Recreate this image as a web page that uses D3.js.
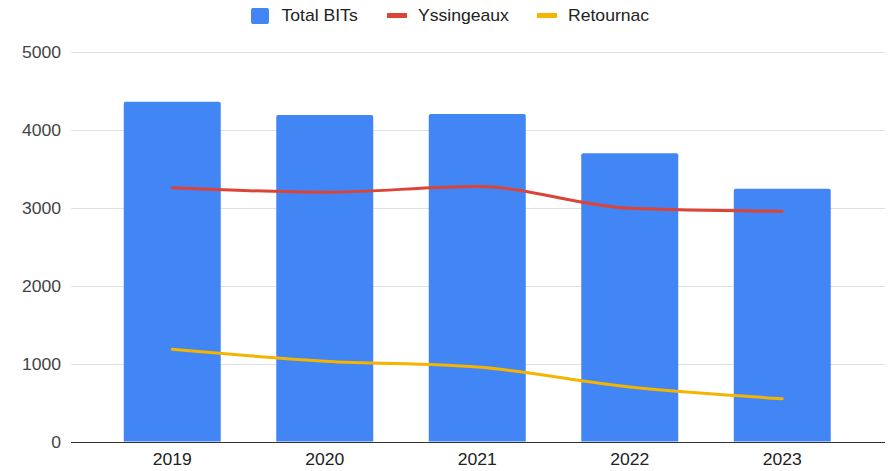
<!DOCTYPE html>
<html><head><meta charset="utf-8">
<script src="https://cdn.jsdelivr.net/npm/d3@7"></script>
<style>body{margin:0;background:#fff;} text{font-family:"Liberation Sans",Arial,sans-serif;}</style>
</head><body>
<svg id="c" width="893" height="471"></svg>
<script>
const categories = ["2019","2020","2021","2022","2023"];
const totalBITs = [4365, 4195, 4207, 3702, 3246];
const yssingeaux = [3260, 3203, 3275, 2996, 2957];
const retournac = [1184, 1032, 957, 700, 550];
const yTicks = [0, 1000, 2000, 3000, 4000, 5000];
const seriesNames = ["Total BITs", "Yssingeaux", "Retournac"];

const colors = {bar:"#4285f4", ys:"#db4437", re:"#f4b400"};
const svg = d3.select("#c");
const gridL = 71, gridR = 885;
const x = d3.scaleBand().domain(categories).range([96, 858.5]).paddingInner(0.364).paddingOuter(0.182);
const y = d3.scaleLinear().domain([0, 5000]).range([441.5, 52.3]);
const SX = 1.1;

function label(g, px, py, txt, anchor, color){
  return g.append("text")
    .attr("transform", `translate(${px},${py}) scale(${SX},1)`)
    .attr("text-anchor", anchor).attr("font-size", 16).attr("fill", color || "#333")
    .text(txt);
}

// gridlines
svg.append("g").selectAll("line").data(yTicks.filter(d=>d>0)).join("line")
  .attr("x1", gridL).attr("x2", gridR)
  .attr("y1", d=>Math.round(y(d))+0.5).attr("y2", d=>Math.round(y(d))+0.5)
  .attr("stroke", "#e0e0e0").attr("stroke-width", 1);

// y labels
const gy = svg.append("g");
yTicks.forEach(d => label(gy, 61, y(d)+6, d, "end", "#444"));

// bars
svg.append("g").selectAll("path").data(categories).join("path")
  .attr("fill", colors.bar)
  .attr("d", (c,i)=>{
    const x0 = x(c), w = x.bandwidth(), y0 = y(totalBITs[i]), y1 = y(0), r = 2;
    return `M${x0},${y1}V${y0+r}Q${x0},${y0} ${x0+r},${y0}H${x0+w-r}Q${x0+w},${y0} ${x0+w},${y0+r}V${y1}Z`;
  });

// baseline
svg.append("line").attr("x1", gridL).attr("x2", gridR)
  .attr("y1", Math.round(y(0))+0.5).attr("y2", Math.round(y(0))+0.5)
  .attr("stroke", "#333").attr("stroke-width", 1);

// lines
const line = d3.line().x((d,i)=>x(categories[i])+x.bandwidth()/2).y(d=>y(d)).curve(d3.curveMonotoneX);
svg.append("path").datum(yssingeaux).attr("d", line).attr("fill","none")
  .attr("stroke", colors.ys).attr("stroke-width", 3).attr("stroke-linecap","round");
svg.append("path").datum(retournac).attr("d", line).attr("fill","none")
  .attr("stroke", colors.re).attr("stroke-width", 3).attr("stroke-linecap","round");

// x labels
const gx = svg.append("g");
categories.forEach(c => label(gx, x(c)+x.bandwidth()/2, 464.5, c, "middle", "#222"));

// legend
const leg = svg.append("g");
leg.append("rect").attr("x", 251).attr("y", 8).attr("width", 18).attr("height", 16).attr("rx", 2).attr("fill", colors.bar);
label(leg, 281.5, 20.7, seriesNames[0], "start", "#222");
leg.append("rect").attr("x", 387).attr("y", 13).attr("width", 20).attr("height", 5).attr("fill", colors.ys);
label(leg, 418, 20.7, seriesNames[1], "start", "#222");
leg.append("rect").attr("x", 537).attr("y", 13).attr("width", 20).attr("height", 5).attr("fill", colors.re);
label(leg, 568, 20.7, seriesNames[2], "start", "#222");
</script>
</body></html>
